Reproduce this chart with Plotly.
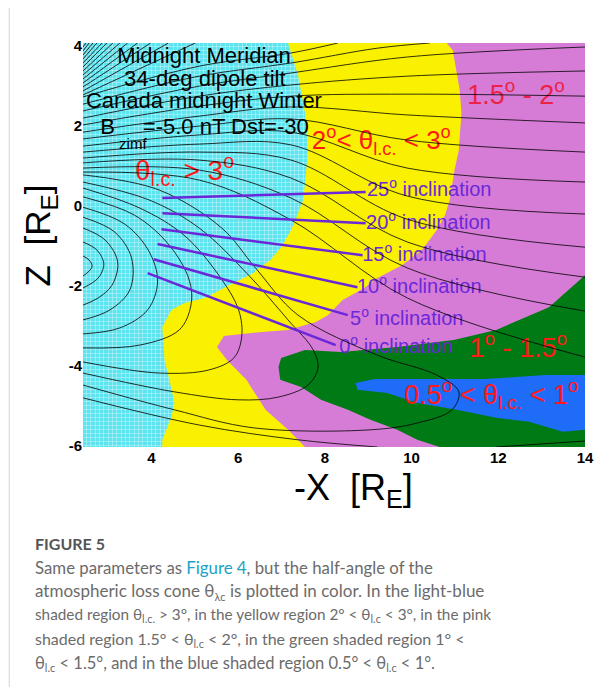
import plotly.graph_objects as go

# ---------------- data (data units: X [R_E], Z [R_E]) ----------------
X_RANGE = [2.42, 14.0]
Z_RANGE = [-6.03, 4.08]
X_TICKS = [4, 6, 8, 10, 12, 14]
Z_TICKS = [-6, -4, -2, 0, 2, 4]

# loss-cone regions (boundaries)
yellow_x = [7.15, 7.38, 7.54, 7.61, 7.57, 7.50, 7.38, 7.22, 6.99, 6.74, 6.42, 6.35, 5.78, 5.28, 4.75,
            4.46, 4.25, 4.30, 4.41, 4.53, 4.46, 4.25, 4.25, 14.0, 14.0]
yellow_z = [4.08, 3.28, 2.33, 1.40, 0.90, 0.15, -0.18, -0.60, -1.03, -1.35, -1.60, -1.68, -1.98, -2.28, -2.43,
            -2.60, -3.03, -3.85, -4.35, -4.93, -5.28, -5.85, -6.03, -6.03, 4.08]
pink_x = [10.81, 10.95, 11.11, 11.15, 11.09, 10.99, 10.88, 10.77, 10.58, 10.24, 9.78, 9.21, 8.91, 8.41,
          8.07, 7.79, 7.15, 6.54, 5.67, 5.51, 5.74, 6.19, 6.63, 7.15, 7.54, 14.0, 14.0]
pink_z = [4.08, 3.90, 2.90, 2.33, 1.40, 0.90, 0.15, -0.23, -0.60, -1.10, -1.48, -1.80, -2.05, -2.35,
          -2.73, -2.90, -3.10, -3.15, -3.25, -3.53, -3.85, -4.35, -5.10, -5.60, -6.03, -6.03, 4.08]
green_x = [14.0, 13.17, 11.95, 10.97, 9.67, 8.37, 7.54, 6.99, 6.93, 6.97, 7.45, 7.91, 8.53, 9.05, 9.67,
           10.13, 10.65, 14.0]
green_z = [-1.73, -2.53, -3.10, -3.35, -3.53, -3.65, -3.60, -3.80, -4.03, -4.35, -4.53, -4.85, -5.10,
           -5.35, -5.60, -5.85, -6.03, -6.03]
blue_x = [8.71, 9.14, 11.66, 13.10, 14.0, 14.0, 13.49, 12.71, 11.95, 11.04, 10.13, 9.44, 8.75]
blue_z = [-4.43, -4.33, -4.33, -4.23, -4.23, -5.60, -5.65, -5.40, -5.30, -5.10, -4.93, -4.68, -4.60]

# field lines near the pole (left edge Z -> top edge X)
hatch_left_z = [3.98, 3.88, 3.78, 3.68, 3.58, 3.48, 3.38, 3.28, 3.18, 3.08, 2.98, 2.88, 2.78]
hatch_top_x = [2.49, 2.56, 2.65, 2.74, 2.86, 2.97, 3.11, 3.27, 3.45, 3.68, 3.98, 4.39, 5.01]

# open field lines running tailward
upper_lines = [
    ([2.42, 5.10, 7.22, 8.30], [2.73, 3.50, 3.83, 4.08]),
    ([2.42, 5.10, 7.22, 9.21, 10.42], [2.55, 3.25, 3.58, 3.95, 4.08]),
    ([2.42, 5.10, 7.22, 9.90, 14.0], [2.38, 3.00, 3.33, 3.73, 3.98]),
    ([2.42, 5.10, 7.22, 9.90, 14.0], [2.20, 2.75, 3.03, 3.25, 3.38]),
    ([2.42, 5.10, 7.22, 9.90, 14.0], [2.03, 2.50, 2.75, 2.80, 2.75]),
    ([2.42, 5.10, 7.22, 9.90, 14.0], [1.85, 2.25, 2.48, 2.28, 2.08]),
    ([2.42, 5.10, 7.22, 9.90, 14.0], [1.68, 2.00, 2.18, 1.65, 1.35]),
    ([2.42, 5.10, 7.22, 9.90, 14.0], [1.50, 1.78, 1.85, 0.95, 0.60]),
    ([2.42, 5.10, 7.22, 9.90, 14.0], [1.35, 1.55, 1.53, 0.25, -0.20]),
    ([2.42, 5.10, 7.22, 9.90, 14.0], [1.20, 1.35, 1.15, -0.33, -1.03]),
    ([2.42, 5.10, 7.22, 9.90, 14.0], [1.08, 1.15, 0.70, -0.90, -1.78]),
    ([2.42, 5.10, 7.22, 9.90, 14.0], [0.95, 0.90, 0.20, -1.55, -2.63]),
    ([2.42, 5.10, 7.22, 9.90, 14.0], [0.85, 0.65, -0.35, -2.30, -3.78]),
]

# closed (looping) field lines on the night side
loop_lines = [
    ([2.42, 2.56, 2.63, 2.56, 2.42], [-1.25, -1.35, -1.50, -1.63, -1.75]),
    ([2.42, 2.74, 2.90, 2.77, 2.42], [-0.90, -1.10, -1.45, -1.80, -2.05]),
    ([2.42, 2.93, 3.22, 3.09, 2.77, 2.42], [-0.55, -0.85, -1.40, -1.98, -2.30, -2.48]),
    ([2.42, 3.15, 3.54, 3.50, 3.04, 2.42], [-0.28, -0.65, -1.30, -2.10, -2.60, -2.85]),
    ([2.42, 3.38, 3.95, 4.14, 3.91, 3.27, 2.42], [-0.03, -0.45, -1.15, -1.90, -2.60, -3.05, -3.20]),
    ([2.42, 3.61, 4.41, 4.87, 4.91, 4.64, 3.73, 2.42], [0.23, -0.23, -0.98, -1.85, -2.48, -3.10, -3.48, -3.55]),
    ([2.42, 3.73, 4.75, 5.55, 6.01, 6.08, 5.90, 5.33, 4.18, 2.42],
     [0.45, -0.05, -0.73, -1.73, -2.60, -3.28, -3.80, -4.10, -4.18, -3.90]),
    ([2.42, 3.95, 5.10, 6.24, 7.15, 7.73, 7.84, 7.61, 6.93, 6.01, 4.53, 2.42],
     [0.60, 0.15, -0.55, -1.73, -2.85, -3.60, -4.05, -4.48, -4.78, -4.85, -4.65, -4.18]),
    ([2.42, 4.18, 5.62, 6.40, 7.38, 9.21, 10.58, 11.09, 10.93, 10.13, 9.05, 6.35, 4.53, 2.42],
     [0.78, 0.40, -0.55, -1.55, -2.73, -3.73, -4.23, -4.65, -5.10, -5.43, -5.60, -5.55, -5.10, -4.48]),
]

bottom_lines = [
    ([2.42, 5.10, 7.38, 9.21], [-4.80, -5.48, -5.85, -6.03]),
    ([11.95, 14.0], [-6.03, -5.88]),
]

# inclination lines
incl_deg = [25, 20, 15, 10, 5, 0]
incl_x0 = [4.25, 4.25, 4.23, 4.14, 4.05, 3.91]
incl_z0 = [0.20, -0.18, -0.58, -0.95, -1.33, -1.68]
incl_x1 = [8.94, 8.94, 8.87, 8.75, 8.53, 8.25]
incl_z1 = [0.35, -0.43, -1.23, -2.03, -2.73, -3.48]
incl_label_x = [9.05, 9.03, 8.94, 8.82, 8.66, 8.41]
incl_label_z = [0.375, -0.45, -1.25, -2.05, -2.85, -3.55]

# ---------------- colours ----------------
CYAN = "#5ee4ef"
YELLOW = "#f9f100"
PINK = "#d67cd6"
GREEN = "#007a14"
BLUE = "#1f6cf8"
PURPLE = "#6a28d8"
RED = "#ff1a1a"
FONT = "Liberation Sans"

fig = go.Figure()

for xs, zs, col in [(yellow_x, yellow_z, YELLOW), (pink_x, pink_z, PINK),
                    (green_x, green_z, GREEN), (blue_x, blue_z, BLUE)]:
    fig.add_trace(go.Scatter(x=xs, y=zs, fill="toself", fillcolor=col, mode="lines",
                             line=dict(width=0, color=col), hoverinfo="skip", showlegend=False))


# text inside the plot (drawn before the field lines, as in the original)
def add_text(x, z, txt, size, color, pos="middle center"):
    fig.add_trace(go.Scatter(x=[x], y=[z], mode="text", text=[txt], textposition=pos,
                             textfont=dict(family=FONT, size=size, color=color),
                             hoverinfo="skip", showlegend=False))


add_text(5.21, 3.73, "Midnight Meridian", 22, "black")
add_text(5.23, 3.15, "34-deg dipole tilt", 22, "black")
add_text(5.21, 2.60, "Canada midnight Winter", 22, "black")
add_text(2.99, 1.95, "B", 22, "black")
add_text(3.57, 1.53, "zimf", 15, "black")
add_text(3.80, 1.95, "=-5.0 nT Dst=-30", 22, "black", "middle right")
add_text(3.62, 0.83, "θ<sub>l.c.</sub> > 3<sup>o</sup>", 28, RED, "middle right")
add_text(9.30, 1.58, "2<sup>o</sup>< θ<sub>l.c.</sub> < 3<sup>o</sup>", 26, RED)
add_text(12.41, 2.73, "1.5<sup>o</sup> - 2<sup>o</sup>", 27, "#ec2248")
add_text(12.46, -3.60, "1<sup>o</sup> - 1.5<sup>o</sup>", 27, RED)
add_text(11.84, -4.78, "0.5<sup>o</sup> < θ<sub>l.c.</sub> < 1<sup>o</sup>", 27, RED)
for d, lx, lz in zip(incl_deg, incl_label_x, incl_label_z):
    add_text(lx - 0.08, lz, f"{d}<sup>o</sup> inclination", 20, PURPLE, "middle right")


# field lines
def add_line(xs, zs):
    fig.add_trace(go.Scatter(x=xs, y=zs, mode="lines", line=dict(color="black", width=0.8, shape="spline"),
                             hoverinfo="skip", showlegend=False))


for lz, tx in zip(hatch_left_z, hatch_top_x):
    add_line([X_RANGE[0], tx], [lz, Z_RANGE[1]])
for xs, zs in upper_lines + loop_lines + bottom_lines:
    add_line(xs, zs)

# inclination lines
for x0, z0, x1, z1 in zip(incl_x0, incl_z0, incl_x1, incl_z1):
    fig.add_trace(go.Scatter(x=[x0, x1], y=[z0, z1], mode="lines", line=dict(color=PURPLE, width=2.5),
                             hoverinfo="skip", showlegend=False))

# ---------------- layout ----------------
# the page body has an 8px margin, so the figure is placed 8px in from the window corner
OFF = 8
PAGE_L, PAGE_T, PAGE_R, PAGE_B = 83, 43, 590, 447
W, H = 614 - 2 * OFF, 695 - 2 * OFF
L, T = PAGE_L - OFF, PAGE_T - OFF
R, B = W - (PAGE_R - OFF), H - (PAGE_B - OFF)
PW, PH = PAGE_R - PAGE_L, PAGE_B - PAGE_T


def px(xp):
    return (xp - PAGE_L) / PW


def py(yp):
    return (PAGE_B - yp) / PH


axis_common = dict(showline=False, zeroline=False, showgrid=False, ticks="",
                   tickfont=dict(family=FONT, size=15, color="black", weight="bold"))
fig.update_layout(
    width=W, height=H, margin=dict(l=L, r=R, t=T, b=B),
    paper_bgcolor="white", plot_bgcolor=CYAN, showlegend=False,
    xaxis=dict(range=X_RANGE, tickvals=X_TICKS, ticktext=[str(v) for v in X_TICKS],
               minor=dict(dtick=0.1, tick0=0, showgrid=True, gridcolor="rgba(255,255,255,0.3)", gridwidth=1),
               **axis_common),
    yaxis=dict(range=Z_RANGE, tickvals=Z_TICKS, ticktext=[str(v) for v in Z_TICKS],
               minor=dict(dtick=0.1, tick0=0, showgrid=True, gridcolor="rgba(255,255,255,0.3)", gridwidth=1),
               **axis_common),
)

ann = []
ann.append(dict(x=px(356), y=py(490), xref="paper", yref="paper", showarrow=False,
                text="-X  [R<sub>E</sub>]", font=dict(family=FONT, size=36, color="black"),
                xanchor="center", yanchor="middle"))
ann.append(dict(x=px(40), y=py(235), xref="paper", yref="paper", showarrow=False, textangle=-90,
                text="Z  [R<sub>E</sub>]", font=dict(family=FONT, size=35, color="black"),
                xanchor="center", yanchor="middle"))

CAP = "Lato"
CAPC = "#6b6b6b"
ann.append(dict(x=px(33), y=py(543), xref="paper", yref="paper", showarrow=False, xanchor="left",
                yanchor="middle", text="<b>FIGURE 5</b>", font=dict(family=CAP, size=16, color="#555555")))
SUB = "<sub><span style='font-size:11px'>{}</span></sub>"
cap_lines = [
    "Same parameters as <span style='color:#1aa3c6'>Figure 4</span>, but the half-angle of the",
    "atmospheric loss cone θ" + SUB.format("λc") + " is plotted in color. In the light-blue",
    "shaded region θ" + SUB.format("l.c.") + " > 3°, in the yellow region 2° < θ" + SUB.format("l.c")
    + " < 3°, in the pink",
    "shaded region 1.5° < θ" + SUB.format("l.c") + " < 2°, in the green shaded region 1° <",
    "θ" + SUB.format("l.c") + " < 1.5°, and in the blue shaded region 0.5° < θ" + SUB.format("l.c") + " < 1°.",
]
cap_y = [567, 591, 615, 639, 663]
cap_size = [16.8, 17.0, 15.3, 16.0, 16.5]
for t, yy, sz in zip(cap_lines, cap_y, cap_size):
    ann.append(dict(x=px(33), y=py(yy), xref="paper", yref="paper", showarrow=False, xanchor="left",
                    yanchor="middle", text=t, font=dict(family=CAP, size=sz, color=CAPC)))
fig.update_layout(annotations=ann)

fig.add_shape(type="line", xref="paper", yref="paper", x0=px(8.5), x1=px(8.5), y0=py(8), y1=py(687),
              line=dict(color="#d6d6d6", width=1))

fig.write_html("out.html")
